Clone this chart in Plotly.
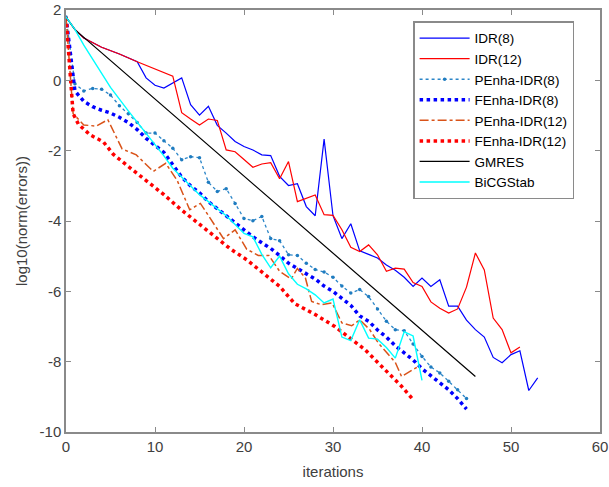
import plotly.graph_objects as go

# ---------------- data ----------------
idr8_x = [0, 1, 2, 4, 6, 8, 9, 10, 11, 12, 13, 14, 15, 16, 17, 18, 19, 20, 21, 22, 23, 24, 25, 26,
          27, 28, 29, 30, 31, 32, 33, 34, 35, 36, 37, 38, 39, 40, 41, 42, 43, 44, 45, 46, 47,
          48, 49, 50, 51, 52, 53]
idr8_y = [1.8, 1.45, 1.2, 0.94, 0.75, 0.53, 0.07, -0.14, -0.22, -0.08, 0.07, -0.69, -0.99, -0.74,
          -1.28, -1.5, -1.74, -1.88, -1.98, -2.12, -2.14, -2.73, -2.99, -2.94, -3.59, -3.85,
          -1.67, -3.85, -4.5, -4.08, -4.85, -4.95, -5.05, -5.25, -5.4, -5.6, -5.86, -5.62,
          -5.86, -5.67, -6.42, -6.42, -6.82, -7.09, -7.3, -7.88, -8.03, -7.8, -7.69, -8.82, -8.46]

idr12_x = [0, 1, 2, 4, 6, 8, 12, 13, 14, 15, 16, 17, 18, 19, 20, 21, 22, 23, 24, 25, 26, 27, 28,
           29, 30, 31, 32, 33, 34, 35, 36, 37, 38, 39, 40, 41, 42, 43, 44, 45, 46, 47, 48, 49,
           50, 51]
idr12_y = [1.8, 1.45, 1.2, 0.94, 0.75, 0.53, 0.12, -0.92, -1.1, -1.27, -1.1, -1.14, -1.98, -2.03,
           -2.25, -2.47, -2.38, -2.34, -2.8, -2.31, -3.45, -3.35, -3.26, -3.82, -3.84, -4.25,
           -4.75, -4.87, -4.68, -4.96, -5.43, -5.34, -5.37, -5.75, -5.86, -6.3, -6.48, -6.62,
           -6.5, -5.88, -4.91, -5.39, -6.76, -7.09, -7.75, -7.58]

penha8_x = list(range(0, 46))
penha8_y = [1.8, -0.1, -0.3, -0.23, -0.25, -0.42, -0.72, -0.95, -1.2, -1.5, -1.5, -1.72, -1.93,
            -2.26, -2.17, -2.2, -2.9, -3.16, -3.08, -3.5, -3.93, -3.99, -3.87, -4.5, -4.56,
            -4.96, -4.98, -5.2, -5.38, -5.45, -5.6, -5.85, -6.05, -5.95, -6.15, -6.5, -6.85,
            -7.09, -7.12, -7.5, -7.85, -8.15, -8.32, -8.56, -8.8, -9.05]

fenha8_x = list(range(0, 46))
fenha8_y = [1.8, -0.3, -0.6, -0.75, -0.85, -0.93, -1.05, -1.2, -1.4, -1.65, -1.85, -2.05, -2.4,
            -2.75, -3.0, -3.2, -3.45, -3.65, -3.85, -4.05, -4.28, -4.45, -4.62, -4.78, -4.98,
            -5.2, -5.35, -5.5, -5.65, -5.85, -6.0, -6.2, -6.4, -6.7, -6.85, -7.1, -7.3, -7.55,
            -7.75, -7.95, -8.2, -8.4, -8.6, -8.8, -9.05, -9.35]

penha12_x = [0, 0.8, 2, 3.4, 4.7, 6.3, 7.9, 9.8, 11.2, 12.5, 13.9, 15.1, 17.7, 19, 20.3, 21.6,
             22.8, 24, 25.3, 26, 26.9, 27.6, 28.7, 29.9, 31, 32.1, 33, 34.1, 35.1, 36.2, 37,
             37.7, 39.5]
penha12_y = [1.8, -0.95, -1.27, -1.3, -1.12, -1.95, -2.12, -2.59, -2.36, -2.85, -3.68, -3.5,
             -4.5, -4.25, -4.8, -4.98, -4.98, -5.43, -5.65, -5.35, -5.62, -6.29, -6.38, -6.33,
             -6.9, -6.98, -6.81, -7.08, -7.47, -7.8, -8.02, -8.42, -8.15]

fenha12_x = [0, 0.8, 1.4, 2.7, 4.2, 5.3, 7, 9, 11, 12.8, 14.5, 16.6, 18.5, 20.3, 22.2, 24, 25.7,
             28, 30.2, 32.1, 33.6, 35.1, 36.6, 37.7, 39]
fenha12_y = [1.8, -0.95, -1.25, -1.55, -1.75, -2.1, -2.45, -2.85, -3.25, -3.65, -4.0, -4.44,
             -4.8, -5.1, -5.5, -5.86, -6.35, -6.66, -7.0, -7.38, -7.66, -8.04, -8.42, -8.7, -9.08]

gmres_x = [0, 1, 46]
gmres_y = [1.8, 1.44, -8.42]

bicg_x = [0, 1, 2, 3, 5, 7, 9, 11, 12, 13, 14, 15, 16, 17, 18, 19, 20, 21, 22, 23, 24, 25, 26,
          27, 28, 29, 30, 31, 32, 33, 34, 35, 36, 37, 38, 39, 40]
bicg_y = [1.8, 1.45, 1.0, 0.6, -0.2, -0.87, -1.5, -2.15, -2.5, -2.75, -3.0, -3.25, -3.45, -3.65,
          -3.85, -4.1, -4.35, -4.45, -4.95, -5.33, -5.0, -5.5, -5.8, -5.93, -6.1, -6.33, -6.22,
          -7.3, -7.4, -6.81, -7.33, -7.36, -7.6, -7.9, -7.15, -7.27, -8.53]

x_ticks = [0, 10, 20, 30, 40, 50, 60]
y_ticks = [-10, -8, -6, -4, -2, 0, 2]

# ---------------- figure ----------------
FONT = "Liberation Sans, Arial, sans-serif"
TXT = "#404040"
AX = "#8a8a8a"

fig = go.Figure()
fig.add_trace(go.Scatter(x=idr8_x, y=idr8_y, mode="lines", name="IDR(8)",
                         line=dict(color="#0000FF", width=1.2)))
fig.add_trace(go.Scatter(x=idr12_x, y=idr12_y, mode="lines", name="IDR(12)",
                         line=dict(color="#FF0000", width=1.2)))
fig.add_trace(go.Scatter(x=penha8_x, y=penha8_y, mode="lines+markers", name="PEnha-IDR(8)",
                         line=dict(color="#2C86C8", width=1.3, dash="dot"),
                         marker=dict(color="#1F7CC0", size=3.5)))
fig.add_trace(go.Scatter(x=fenha8_x, y=fenha8_y, mode="lines", name="FEnha-IDR(8)",
                         line=dict(color="#0000FF", width=3.5, dash="dot")))
fig.add_trace(go.Scatter(x=penha12_x, y=penha12_y, mode="lines", name="PEnha-IDR(12)",
                         line=dict(color="#D95319", width=1.5, dash="dashdot")))
fig.add_trace(go.Scatter(x=fenha12_x, y=fenha12_y, mode="lines", name="FEnha-IDR(12)",
                         line=dict(color="#FF0000", width=3.5, dash="dot")))
fig.add_trace(go.Scatter(x=gmres_x, y=gmres_y, mode="lines", name="GMRES",
                         line=dict(color="#000000", width=1.2)))
fig.add_trace(go.Scatter(x=bicg_x, y=bicg_y, mode="lines", name="BiCGStab",
                         line=dict(color="#00FFFF", width=1.4)))

axis_common = dict(showgrid=False, zeroline=False, showline=True, mirror="ticks",
                   linecolor=AX, linewidth=1.5, ticks="inside", ticklen=5,
                   tickcolor=AX, tickwidth=1.2,
                   tickfont=dict(family=FONT, size=15, color=TXT))

fig.update_xaxes(range=[0, 60], tickvals=x_ticks, ticktext=[str(v) for v in x_ticks],
                 title=dict(text="iterations", font=dict(family=FONT, size=15, color=TXT),
                            standoff=13),
                 **axis_common)
fig.update_yaxes(range=[-10, 2], tickvals=y_ticks, ticktext=[str(v) for v in y_ticks],
                 title=dict(text="log10(norm(errors))", font=dict(family=FONT, size=15, color=TXT),
                            standoff=8),
                 **axis_common)

fig.update_layout(
    width=609, height=487,
    margin=dict(l=66, r=9, t=10, b=55, autoexpand=False),
    paper_bgcolor="white", plot_bgcolor="white",
    showlegend=True,
    legend=dict(x=0.65, y=0.973, xanchor="left", yanchor="top",
                bgcolor="white", bordercolor=AX, borderwidth=1.5,
                font=dict(family=FONT, size=13.5, color="#000000"),
                itemwidth=50, tracegroupgap=0),
)

fig.write_html("out.html")
